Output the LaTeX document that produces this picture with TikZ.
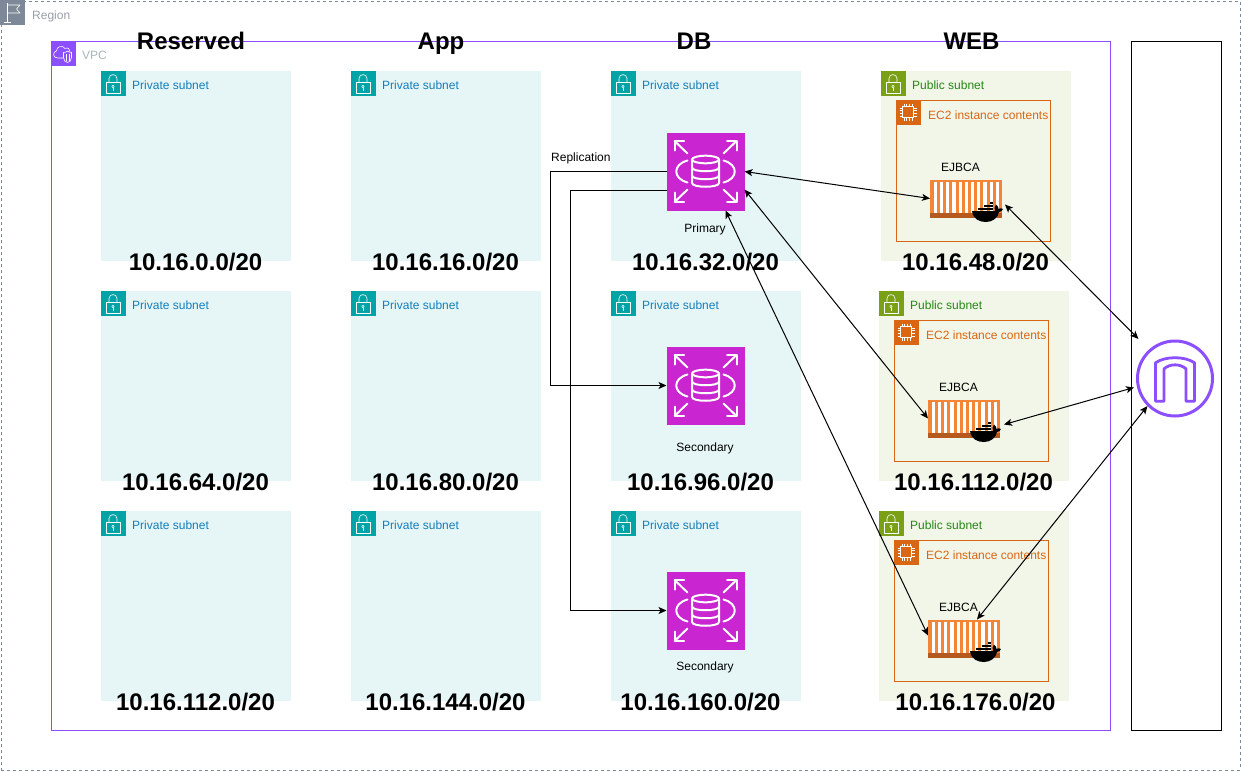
\documentclass[tikz,border=0pt]{standalone}
\usepackage{fontspec}
\setmainfont{Liberation Sans}
\usetikzlibrary{arrows.meta}
\definecolor{regiongray}{HTML}{7D8998}
\definecolor{regiontext}{HTML}{98A0A8}
\definecolor{vpcpurple}{HTML}{8C4FFF}
\definecolor{vpctext}{HTML}{AAB7B8}
\definecolor{privfill}{HTML}{E6F6F7}
\definecolor{privicon}{HTML}{00A4A6}
\definecolor{privtext}{HTML}{147EBA}
\definecolor{pubfill}{HTML}{F2F6E8}
\definecolor{pubicon}{HTML}{7AA116}
\definecolor{pubtext}{HTML}{248814}
\definecolor{ectwo}{HTML}{D86613}
\definecolor{rdsmag}{HTML}{C925D1}
\definecolor{crate}{HTML}{F58536}
\definecolor{cratedark}{HTML}{B5591F}
\tikzset{
  box/.style={anchor=north west,inner sep=0pt,outer sep=0pt},
  regionbox/.style={box,draw=regiongray,dash pattern=on 3pt off 3pt,line width=1pt,minimum width=1239pt,minimum height=769pt},
  vpcbox/.style={box,draw=vpcpurple,line width=1pt,minimum width=1059pt,minimum height=689pt},
  gwbar/.style={box,draw=black,line width=1pt,fill=white,minimum width=90pt,minimum height=689pt},
  privbox/.style={box,fill=privfill,minimum width=190pt,minimum height=190pt},
  pubbox/.style={box,fill=pubfill,minimum width=190pt,minimum height=190pt},
  ecbox/.style={box,draw=ectwo,line width=1pt,minimum width=154pt,minimum height=141pt},
  rdsbox/.style={box,fill=rdsmag,minimum width=78pt,minimum height=78pt},
  cratebox/.style={box,fill=crate,minimum width=72pt,minimum height=38pt},
  gwnode/.style={circle,draw=vpcpurple,line width=3pt,fill=white,minimum size=75pt,inner sep=0pt,outer sep=1.5pt},
  lab/.style={font=\fontsize{12}{14}\selectfont,inner sep=0pt,text height=8.6pt,text depth=2.5pt,yshift=-1.5pt,xshift=.5pt},
  labw/.style={lab,anchor=west},
  head/.style={font=\fontsize{24}{28}\selectfont\bfseries,inner sep=0pt,text height=17pt,text depth=0.5pt,yshift=-.5pt,xshift=.5pt},
  link/.style={line width=1pt,draw=black},
  both/.style={link,arrows={Stealth[length=8pt,width=7pt,inset=2pt]-Stealth[length=8pt,width=7pt,inset=2pt]}},
  one/.style={link,arrows={-Stealth[length=8pt,width=7pt,inset=2pt]}},
  icon/.style={draw=white,line width=.6pt,fill=none,line join=round},
  rdsline/.style={draw=white,line width=2pt,fill=none,line cap=round,line join=round},
  pics/lock/.style={code={
    \fill[#1] (0,0) rectangle (25,25);
    \draw[icon] (5.5,11.7) rectangle (19.5,22.7);
    \draw[icon] (8.5,11.7) -- (8.5,8) .. controls (8.5,2.8) and (16.5,2.8) .. (16.5,8) -- (16.5,11.7);
    \draw[icon] (12.5,16) circle (1.2);
    \draw[icon] (12.5,17.2) -- (12.5,20);
  }},
  pics/flag/.style={code={
    \fill[regiongray] (0,0) rectangle (25,25);
    \draw[icon] (7,3) -- (7,22) (4,22) -- (11,22);
    \draw[icon] (7,5) -- (20,5) -- (16.5,9) -- (20,13) -- (7,13);
  }},
  pics/vpcicon/.style={code={
    \fill[vpcpurple] (0,0) rectangle (25,25);
    \draw[icon] (13,17.5) -- (7,17.5) .. controls (2,17.5) and (2,11) .. (6,10.5)
      .. controls (6,6) and (12,4) .. (14.5,8) .. controls (17,6.5) and (20,8.5) .. (19.5,11);
    \draw[icon] (13,12) .. controls (15,12) and (16,11.5) .. (17,10.5) .. controls (18,11.5) and (19.5,12) .. (21,12)
      -- (21,17) .. controls (21,20) and (19,21.5) .. (17,22) .. controls (15,21.5) and (13,20) .. (13,17) -- cycle;
    \draw[icon] (15.5,13) -- (15.5,20) (18.5,13) -- (18.5,20);
  }},
  pics/chip/.style={code={
    \fill[ectwo] (0,0) rectangle (25,25);
    \draw[icon] (7,7) rectangle (18,18);
    \foreach \t in {8.5,11,14,16.5}{
      \draw[draw=white,line width=.4pt] (\t,4) -- (\t,7) (\t,18) -- (\t,21) (4,\t) -- (7,\t) (18,\t) -- (21,\t);
    }
  }},
  pics/rdsglyph/.style={code={
    \foreach \sx/\sy in {1/1,1/-1,-1/1,-1/-1}{
      \draw[rdsline] (\sx*18,\sy*18) -- (\sx*31,\sy*30.5);
      \draw[rdsline] (\sx*31,\sy*21) -- (\sx*31,\sy*30.5) -- (\sx*21.5,\sy*30.5);
    }
    \draw[rdsline] (-18,-11) .. controls (-33,-7) and (-33,7) .. (-18,11);
    \draw[rdsline] (18,-11) .. controls (33,-7) and (33,7) .. (18,11);
    \draw[rdsline] (0,-12) ellipse (13.5 and 3.8);
    \draw[rdsline] (-13.5,-12) -- (-13.5,11.5) .. controls (-13.5,16.5) and (13.5,16.5) .. (13.5,11.5) -- (13.5,-12);
    \draw[rdsline] (-13.5,-4) .. controls (-13.5,1) and (13.5,1) .. (13.5,-4);
    \draw[rdsline] (-13.5,4) .. controls (-13.5,9) and (13.5,9) .. (13.5,4);
  }},
  pics/crateglyph/.style={code={
    \fill[cratedark] (0,33.5) rectangle (72,38);
    \foreach \i in {0,...,10}{
      \fill[white] ({3.8+6.2*\i},2.5) rectangle ({7+6.2*\i},33.5);
    }
    \fill[black] (42,31.5) .. controls (43,40) and (50,42.5) .. (56,42.5)
      .. controls (63,42.5) and (68,38) .. (69,32.5) .. controls (71,32.5) and (72.5,31) .. (73,29.5)
      .. controls (71.5,28.5) and (69.5,28.5) .. (68.5,29.5) .. controls (68.5,27.5) and (67.5,26) .. (66,25)
      .. controls (64.5,26.5) and (64,29) .. (65,31.5) -- cycle;
    \foreach \bx in {48,51,54,57,60}{ \fill[black] (\bx,28) rectangle ++(2.5,2.8); }
    \foreach \bx in {54,57,60}{ \fill[black] (\bx,25) rectangle ++(2.5,2.5); }
    \fill[black] (60,22) rectangle ++(2.5,2.5);
  }},
  pics/archglyph/.style={code={
    \draw[draw=vpcpurple,line width=2.8pt,line join=round,fill=none]
      (-19.5,22.7) -- (-19.5,-15.7) .. controls (-10,-22.5) and (10,-22.5) .. (19.5,-15.7) -- (19.5,22.7)
      -- (11,22.7) -- (11,-9.7) .. controls (5,-15) and (-5,-15) .. (-11,-9.7) -- (-11,22.7) -- cycle;
  }},
}
\newcommand{\privnet}[3]{%
  \node[privbox] (#1) at (#2,#3) {};
  \pic at (#2,#3) {lock=privicon};
  \node[labw,text=privtext] (#1lab) at ({#2+31},{#3+14}) {Private subnet};
}
\newcommand{\pubnet}[3]{%
  \node[pubbox] (#1) at (#2,#3) {};
  \pic at (#2,#3) {lock=pubicon};
  \node[labw,text=pubtext] (#1lab) at ({#2+31},{#3+14}) {Public subnet};
}
\newcommand{\ecnet}[3]{%
  \node[ecbox] (#1) at ({#2+.5},{#3+.5}) {};
  \pic at (#2,#3) {chip};
  \node[labw,text=ectwo] (#1lab) at ({#2+32},{#3+15}) {EC2 instance contents};
}
\newcommand{\cratenet}[3]{%
  \node[cratebox] (#1) at (#2,#3) {};
  \pic at (#2,#3) {crateglyph};
  \node[lab] (#1lab) at ({#2+30},{#3-13}) {EJBCA};
}
\begin{document}
\begin{tikzpicture}[x=1pt,y=-1pt]
\useasboundingbox (0.5,0.5) rectangle (1241.5,771.5);
\fill[white] (0.5,0.5) rectangle (1241.5,771.5);
\node[regionbox] (region) at (1.5,1.5) {};
\pic at (0.5,0.5) {flag};
\node[labw,text=regiontext] (regionlab) at (32,15) {Region};
\node[vpcbox] (vpc) at (51.5,41.5) {};
\pic at (51,41) {vpcicon};
\node[labw,text=vpctext] (vpclab) at (82,55) {VPC};
\node[gwbar] (bar) at (1131.5,41.5) {};

\privnet{a1}{101}{71}\privnet{b1}{351}{71}\privnet{c1}{611}{71}
\privnet{a2}{101}{291}\privnet{b2}{351}{291}\privnet{c2}{611}{291}
\privnet{a3}{101}{511}\privnet{b3}{351}{511}\privnet{c3}{611}{511}
\pubnet{d1}{881}{71}\pubnet{d2}{879}{291}\pubnet{d3}{879}{511}
\ecnet{e1}{896}{100}\ecnet{e2}{894}{320}\ecnet{e3}{894}{540}

\node[head] (h1) at (191,41) {Reserved};
\node[head] (h2) at (441,41) {App};
\node[head] (h3) at (694,41) {DB};
\node[head] (h4) at (971.5,41) {WEB};

\node[head] (ip1) at (195.5,262) {10.16.0.0/20};
\node[head] (ip2) at (445.5,262) {10.16.16.0/20};
\node[head] (ip3) at (705.5,262) {10.16.32.0/20};
\node[head] (ip4) at (975.5,262) {10.16.48.0/20};
\node[head] (ip5) at (195.5,482) {10.16.64.0/20};
\node[head] (ip6) at (445.5,482) {10.16.80.0/20};
\node[head] (ip7) at (700.5,482) {10.16.96.0/20};
\node[head] (ip8) at (973.5,482) {10.16.112.0/20};
\node[head] (ip9) at (195.5,702) {10.16.112.0/20};
\node[head] (ip10) at (445.5,702) {10.16.144.0/20};
\node[head] (ip11) at (700.5,702) {10.16.160.0/20};
\node[head] (ip12) at (975.5,702) {10.16.176.0/20};

\node[rdsbox] (rds1) at (667,133) {};
\pic at (706,172) {rdsglyph};
\node[rdsbox] (rds2) at (667,347) {};
\pic at (706,386) {rdsglyph};
\node[rdsbox] (rds3) at (667,572) {};
\pic at (706,611) {rdsglyph};
\node[lab] (pl) at (705,228) {Primary};
\node[lab] (sl1) at (705,447) {Secondary};
\node[lab] (sl2) at (705,666) {Secondary};
\node[labw] (repl) at (551,157) {Replication};

\cratenet{k1}{930.5}{180}\cratenet{k2}{928.5}{400}\cratenet{k3}{928.5}{620}

\node[gwnode] (gw) at (1175.5,379) {};
\pic at (1175.5,379) {archglyph};

\draw[one] (rds1.west) -- ++(-116,0) |- (rds2.west);
\draw[one] ([yshift=-19pt]rds1.west) -- ++(-96,0) |- (rds3.west);
\draw[both] (rds1.east) -- (k1.west);
\draw[both] ([yshift=-18pt]rds1.east) -- (k2.west);
\draw[both] ([xshift=20pt]rds1.south) -- ([yshift=3pt]k3.west);
\draw[both] ([xshift=3pt,yshift=-6pt]k1.east) -- ([xshift=-9pt,yshift=12pt]gw.north west);
\draw[both] ([xshift=4pt,yshift=-6pt]k2.east) -- ([xshift=-2pt,yshift=-9pt]gw.west);
\draw[both] ([xshift=13pt]k3.north) -- (gw.south west);
\end{tikzpicture}
\end{document}
